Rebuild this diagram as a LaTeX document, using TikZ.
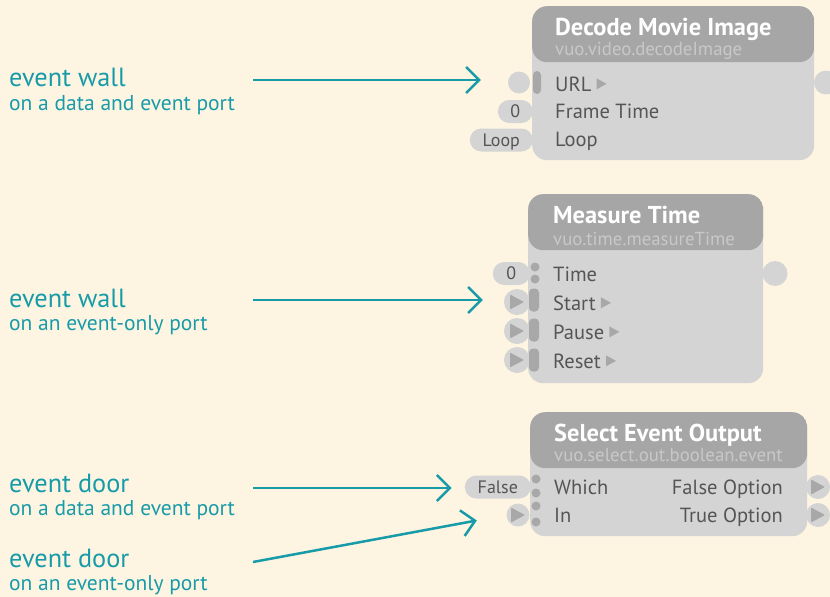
\documentclass[tikz,border=0pt]{standalone}
\usepackage{fontspec}
\setmainfont{PT Sans}
\usetikzlibrary{arrows.meta, positioning}

\definecolor{paper}{RGB}{253,245,226}
\definecolor{vuoteal}{RGB}{24,155,168}
\definecolor{headgray}{RGB}{166,166,166}
\definecolor{bodygray}{RGB}{212,212,212}
\definecolor{portdark}{RGB}{168,168,168}
\definecolor{classgray}{RGB}{200,200,200}
\definecolor{labelgray}{RGB}{85,85,85}

\begin{document}
\begin{tikzpicture}[
    x=1pt, y=-1pt,
    box/.style={rectangle, fill=bodygray, rounded corners=15pt, anchor=north west, inner sep=0pt,
        path picture={\fill[headgray] (path picture bounding box.north west) rectangle ([yshift=-56pt]path picture bounding box.north east);}},
    title/.style={anchor=base west, inner sep=0pt, text=white, font=\bfseries\fontsize{24.4}{28}\selectfont},
    classname/.style={anchor=base west, inner sep=0pt, text=classgray, font=\fontsize{18.8}{22}\selectfont},
    portlbl/.style={anchor=base west, inner sep=0pt, text=labelgray, font=\fontsize{20.5}{24}\selectfont},
    outlbl/.style={portlbl, anchor=base east},
    const/.style={rectangle, fill=bodygray, rounded corners=11.5pt, minimum height=23pt, inner sep=0pt, anchor=east,
        text height=12pt, text depth=0pt, text=labelgray, font=\fontsize{18}{21}\selectfont},
    dataport/.style={circle, fill=bodygray, minimum size=22pt, inner sep=0pt},
    eventport/.style={circle, fill=bodygray, minimum size=25pt, inner sep=0pt},
    wall/.style={rectangle, fill=portdark, rounded corners=4pt, minimum width=9pt, minimum height=23pt, inner sep=0pt},
    portdot/.style={circle, fill=portdark, minimum size=9pt, inner sep=0pt},
    walltitle/.style={anchor=base west, inner sep=0pt, text=vuoteal, font=\fontsize{26.3}{30}\selectfont},
    wallnote/.style={anchor=base west, inner sep=0pt, text=vuoteal, font=\fontsize{21.5}{25}\selectfont},
    pointer/.style={draw=vuoteal, line width=2.5pt, -{Straight Barb[length=13pt, width=26pt]}}
]

% Background
\fill[paper] (0,0) rectangle (830,597);
\useasboundingbox (0,0) rectangle (830,597);
\clip (0,0) rectangle (830,597);

% Constants and port circles (under the boxes)
\node[const, minimum width=35pt] (zeroA) at (533,111.5) {0};
\node[const, minimum width=63pt] (loopconst) at (533,140) {Loop};
\node[const, minimum width=37pt] (zeroB) at (530,273.5) {0};
\node[const, minimum width=66pt] (falseconst) at (531,487) {False};

\node[dataport] (urlport) at (519,82.5) {};
\node[dataport, minimum size=24pt] (decodeout) at (826,82.5) {};
\node[eventport, minimum size=26pt] (startport) at (517,302) {};
\node[eventport, minimum size=26pt] (pauseport) at (517,331) {};
\node[eventport, minimum size=26pt] (resetport) at (517,360) {};
\node[eventport] (measureout) at (775,273.5) {};
\node[eventport, minimum size=23pt] (inport) at (518,515) {};
\node[eventport, minimum size=24pt] (falseout) at (818,487) {};
\node[eventport, minimum size=24pt] (trueout) at (818,515) {};

% Event triangles
\foreach \p in {startport, pauseport, resetport, inport, falseout, trueout}
    \fill[portdark, rounded corners=1pt, shift={(\p.center)}] (-7,-7.5) -- (-7,7.5) -- (7,0) -- cycle;

% Boxes
\node[box, minimum width=282pt, minimum height=154pt] (decode) at (532,6) {};
\node[box, minimum width=235pt, minimum height=189pt] (measure) at (528,194) {};
\node[box, minimum width=277pt, minimum height=124pt] (select) at (530,412) {};

% Walls and dots
\node[wall, minimum width=8pt] (urlwall) at (537,82.5) {};
\node[wall, minimum width=10pt] (startwall) at (534,300) {};
\node[wall, minimum width=10pt] (pausewall) at (534,330) {};
\node[wall, minimum width=10pt] (resetwall) at (534,360) {};
\node[portdot] (timedotA) at (535,267) {};
\node[portdot] (timedotB) at (535,279) {};
\node[portdot] (whichdotA) at (536,479) {};
\node[portdot] (whichdotB) at (536,493) {};
\node[portdot] (indotA) at (536,506) {};
\node[portdot] (indotB) at (536,522) {};

% Titles
\node[title] (decodetitle) at (555,35) {Decode Movie Image};
\node[classname] (decodeclass) at (555,55) {vuo.video.decodeImage};
\node[title] (measuretitle) at (553,223) {Measure Time};
\node[classname] (measureclass) at (553,245) {vuo.time.measureTime};
\node[title] (selecttitle) at (554,441) {Select Event Output};
\node[classname] (selectclass) at (554,461) {vuo.select.out.boolean.event};

% Port labels
\node[portlbl] (urllbl) at (555,91) {URL};
\node[portlbl] (framelbl) at (555,118) {Frame Time};
\node[portlbl] (looplbl) at (555,146) {Loop};
\node[portlbl] (timelbl) at (553,281) {Time};
\node[portlbl] (startlbl) at (553,310) {Start};
\node[portlbl] (pauselbl) at (553,339) {Pause};
\node[portlbl] (resetlbl) at (553,368) {Reset};
\node[portlbl] (whichlbl) at (554,494) {Which};
\node[portlbl] (inlbl) at (554,522) {In};
\node[outlbl] (falseoptlbl) at (783,494) {False Option};
\node[outlbl] (trueoptlbl) at (783,522) {True Option};

\foreach \l in {urllbl, startlbl, pauselbl, resetlbl}
    \fill[portdark, shift={(\l.east)}] (5,-5.5) -- (5,5.5) -- (15,0) -- cycle;

% Explanations
\node[walltitle] (wallA) at (9,86) {event wall};
\node[wallnote] (wallAnote) at (9,110) {on a data and event port};
\node[walltitle] (wallB) at (9,307) {event wall};
\node[wallnote] (wallBnote) at (9,330) {on an event-only port};
\node[walltitle] (doorA) at (9,492) {event door};
\node[wallnote] (doorAnote) at (9,515) {on a data and event port};
\node[walltitle] (doorB) at (9,567) {event door};
\node[wallnote] (doorBnote) at (9,590) {on an event-only port};

\coordinate (wallAstart) at (253,80);
\coordinate (wallBstart) at (253,300);
\coordinate (doorAstart) at (253,488);
\coordinate (doorBstart) at (253,562);

% Arrows
\draw[pointer, shorten >=27pt] (wallAstart) -- (wallAstart -| urlport.west);
\draw[pointer, shorten >=21pt] (wallBstart) -- (wallBstart -| startport.west);
\draw[pointer, shorten >=13pt] (doorAstart) -- (doorAstart -| falseconst.west);
\draw[pointer, shorten >=30pt] (doorBstart) -- (inport.west);

\end{tikzpicture}
\end{document}
